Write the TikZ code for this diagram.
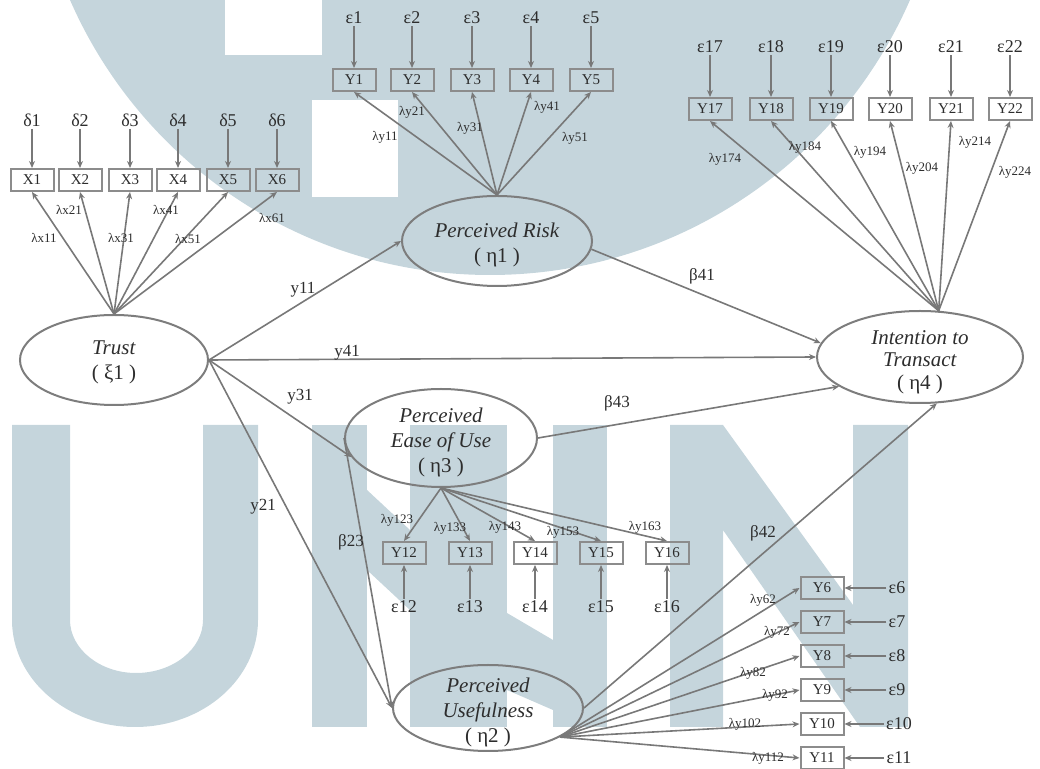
\documentclass[tikz,border=0pt]{standalone}
\usepackage{fontspec}
\setmainfont{Liberation Serif}
\usetikzlibrary{arrows.meta, shapes.geometric}

\begin{document}
\begin{tikzpicture}[x=0.5pt, y=-0.5pt,
    ind/.style={draw=boxgray, line width=1pt, minimum width=21.5pt, minimum height=11pt, inner sep=0pt, text=txtgray, font=\fontsize{7.5}{8}\selectfont},
    err/.style={inner sep=1pt, text=txtgray, font=\fontsize{9}{10}\selectfont},
    lam/.style={inner sep=0pt, text=txtgray, font=\fontsize{6.5}{7}\selectfont},
    coef/.style={inner sep=0pt, text=txtgray, font=\fontsize{8.5}{9}\selectfont},
    lat/.style={draw=elgray, line width=1pt, ellipse, inner sep=0pt},
    lattext/.style={align=center, text=txtgray, font=\fontsize{10.5}{12.5}\selectfont},
    arr/.style={draw=pathgray, line width=0.8pt, -{Stealth[length=3.5pt, width=3pt]}}]

%my colors
\definecolor{wmblue}{RGB}{197,213,220}
\definecolor{boxgray}{RGB}{140,140,140}
\definecolor{elgray}{RGB}{125,125,125}
\definecolor{pathgray}{RGB}{120,120,120}
\definecolor{txtgray}{RGB}{45,45,45}

    \useasboundingbox (0,0) rectangle (1040,769);

    % watermark behind the model
    \begin{scope}
    \clip (0,0) rectangle (1040,769);
    \fill[wmblue] (490,-183) circle (229pt);
    \fill[white] (225,0) rectangle (322,55);
    \fill[white] (312,100) rectangle (398,197);
    % U
    \fill[wmblue] (12,425) -- (12,620) .. controls (12,679) and (67,727) .. (135,727) .. controls (203,727) and (258,679) .. (258,620) -- (258,425) -- (203,425) -- (203,620) .. controls (203,649) and (173,673) .. (136,673) .. controls (100,673) and (70,649) .. (70,620) -- (70,425) -- cycle;
    % M
    \fill[wmblue] (312,425) rectangle (367,727);
    \fill[wmblue] (410,425) rectangle (507,727);
    \fill[wmblue] (553,425) rectangle (607,727);
    \fill[wmblue] (367,490) -- (410,530) -- (410,610) -- (367,570) -- cycle;
    \fill[wmblue] (507,613) -- (553,640) -- (553,710) -- (507,690) -- cycle;
    % N
    \fill[wmblue] (670,425) -- (723,425) -- (853,605) -- (853,425) -- (908,425) -- (908,727) -- (860,727) -- (723,530) -- (723,727) -- (670,727) -- cycle;
    \end{scope}

    % Latent variables
    \node[lat, minimum width=94pt, minimum height=45pt] (Trust) at (114,360) {};
    \node[lattext] (TrustText) at (114,362) {\textit{Trust}\\( ξ1 )};
    \node[lat, minimum width=95pt, minimum height=45pt] (PR) at (497,241) {};
    \node[lattext] (PRText) at (497,245) {\textit{Perceived Risk}\\( η1 )};
    \node[lat, minimum width=103pt, minimum height=46pt] (IT) at (920,357) {};
    \node[lattext, font=\fontsize{10.5}{11.3}\selectfont] (ITText) at (920,362) {\textit{Intention to}\\\textit{Transact}\\( η4 )};
    \node[lat, minimum width=96pt, minimum height=49pt] (PEOU) at (441,438) {};
    \node[lattext] (PEOUText) at (441,442) {\textit{Perceived}\\\textit{Ease of Use}\\( η3 )};
    \node[lat, minimum width=95pt, minimum height=43pt] (PU) at (488,708) {};
    \node[lattext] (PUText) at (488,712) {\textit{Perceived}\\\textit{Usefulness}\\( η2 )};

    % Trust indicators
    \node[ind] (X1) at (32,180) {X1};
    \node[ind] (X2) at (80,180) {X2};
    \node[ind] (X3) at (130,180) {X3};
    \node[ind] (X4) at (178,180) {X4};
    \node[ind] (X5) at (228,180) {X5};
    \node[ind] (X6) at (277,180) {X6};
    \node[err] (d1) at (32,120) {δ1};
    \node[err] (d2) at (80,120) {δ2};
    \node[err] (d3) at (130,120) {δ3};
    \node[err] (d4) at (178,120) {δ4};
    \node[err] (d5) at (228,120) {δ5};
    \node[err] (d6) at (277,120) {δ6};

    % Perceived Risk indicators
    \node[ind] (Y1) at (354,80) {Y1};
    \node[ind] (Y2) at (412,80) {Y2};
    \node[ind] (Y3) at (472,80) {Y3};
    \node[ind] (Y4) at (531,80) {Y4};
    \node[ind] (Y5) at (591,80) {Y5};
    \node[err] (e1) at (354,18) {ε1};
    \node[err] (e2) at (412,18) {ε2};
    \node[err] (e3) at (472,18) {ε3};
    \node[err] (e4) at (531,18) {ε4};
    \node[err] (e5) at (591,18) {ε5};

    % Intention indicators
    \node[ind] (Y17) at (710,109) {Y17};
    \node[ind] (Y18) at (771,109) {Y18};
    \node[ind] (Y19) at (831,109) {Y19};
    \node[ind] (Y20) at (890,109) {Y20};
    \node[ind] (Y21) at (951,109) {Y21};
    \node[ind] (Y22) at (1010,109) {Y22};
    \node[err] (e17) at (710,47) {ε17};
    \node[err] (e18) at (771,47) {ε18};
    \node[err] (e19) at (831,47) {ε19};
    \node[err] (e20) at (890,47) {ε20};
    \node[err] (e21) at (951,47) {ε21};
    \node[err] (e22) at (1010,47) {ε22};

    % Ease of use indicators
    \node[ind] (Y12) at (404,553) {Y12};
    \node[ind] (Y13) at (470,553) {Y13};
    \node[ind] (Y14) at (535,553) {Y14};
    \node[ind] (Y15) at (601,553) {Y15};
    \node[ind] (Y16) at (667,553) {Y16};
    \node[err] (e12) at (404,607) {ε12};
    \node[err] (e13) at (470,607) {ε13};
    \node[err] (e14) at (535,607) {ε14};
    \node[err] (e15) at (601,607) {ε15};
    \node[err] (e16) at (667,607) {ε16};

    % Usefulness indicators
    \node[ind] (Y6) at (822,588) {Y6};
    \node[ind] (Y7) at (822,622) {Y7};
    \node[ind] (Y8) at (822,656) {Y8};
    \node[ind] (Y9) at (822,690) {Y9};
    \node[ind] (Y10) at (822,724) {Y10};
    \node[ind] (Y11) at (822,758) {Y11};
    \node[err] (e6) at (897,588) {ε6};
    \node[err] (e7) at (897,622) {ε7};
    \node[err] (e8) at (897,656) {ε8};
    \node[err] (e9) at (897,690) {ε9};
    \node[err] (e10) at (899,724) {ε10};
    \node[err] (e11) at (899,758) {ε11};

    % Error terms
    \draw[arr] (d1) -- (X1);
    \draw[arr] (d2) -- (X2);
    \draw[arr] (d3) -- (X3);
    \draw[arr] (d4) -- (X4);
    \draw[arr] (d5) -- (X5);
    \draw[arr] (d6) -- (X6);
    \draw[arr] (e1) -- (Y1);
    \draw[arr] (e2) -- (Y2);
    \draw[arr] (e3) -- (Y3);
    \draw[arr] (e4) -- (Y4);
    \draw[arr] (e5) -- (Y5);
    \draw[arr] (e17) -- (Y17);
    \draw[arr] (e18) -- (Y18);
    \draw[arr] (e19) -- (Y19);
    \draw[arr] (e20) -- (Y20);
    \draw[arr] (e21) -- (Y21);
    \draw[arr] (e22) -- (Y22);
    \draw[arr] (e12) -- (Y12);
    \draw[arr] (e13) -- (Y13);
    \draw[arr] (e14) -- (Y14);
    \draw[arr] (e15) -- (Y15);
    \draw[arr] (e16) -- (Y16);
    \draw[arr] (e6) -- (Y6);
    \draw[arr] (e7) -- (Y7);
    \draw[arr] (e8) -- (Y8);
    \draw[arr] (e9) -- (Y9);
    \draw[arr] (e10) -- (Y10);
    \draw[arr] (e11) -- (Y11);

    % Loadings
    \coordinate (ITtop) at (IT.68);
    \coordinate (PUout) at (PU.-22);
    \draw[arr] (Trust.north) -- (X1.south);
    \draw[arr] (Trust.north) -- (X2.south);
    \draw[arr] (Trust.north) -- (X3.south);
    \draw[arr] (Trust.north) -- (X4.south);
    \draw[arr] (Trust.north) -- (X5.south);
    \draw[arr] (Trust.north) -- (X6.south);
    \draw[arr] (PR.north) -- (Y1.south);
    \draw[arr] (PR.north) -- (Y2.south);
    \draw[arr] (PR.north) -- (Y3.south);
    \draw[arr] (PR.north) -- (Y4.south);
    \draw[arr] (PR.north) -- (Y5.south);
    \draw[arr] (ITtop) -- (Y17.south);
    \draw[arr] (ITtop) -- (Y18.south);
    \draw[arr] (ITtop) -- (Y19.south);
    \draw[arr] (ITtop) -- (Y20.south);
    \draw[arr] (ITtop) -- (Y21.south);
    \draw[arr] (ITtop) -- (Y22.south);
    \draw[arr] (PEOU.south) -- (Y12.north);
    \draw[arr] (PEOU.south) -- (Y13.north);
    \draw[arr] (PEOU.south) -- (Y14.north);
    \draw[arr] (PEOU.south) -- (Y15.north);
    \draw[arr] (PEOU.south) -- (Y16.north);
    \draw[arr] (PUout) -- (Y6.west);
    \draw[arr] (PUout) -- (Y7.west);
    \draw[arr] (PUout) -- (Y8.west);
    \draw[arr] (PUout) -- (Y9.west);
    \draw[arr] (PUout) -- (Y10.west);
    \draw[arr] (PUout) -- (Y11.west);

    % Loading labels
    \node[lam] (lx11) at (44,238) {λx11};
    \node[lam] (lx21) at (69,210) {λx21};
    \node[lam] (lx31) at (121,238) {λx31};
    \node[lam] (lx41) at (166,210) {λx41};
    \node[lam] (lx51) at (188,239) {λx51};
    \node[lam] (lx61) at (272,218) {λx61};
    \node[lam] (ly11) at (385,137) {λy11};
    \node[lam] (ly21) at (412,112) {λy21};
    \node[lam] (ly31) at (470,128) {λy31};
    \node[lam] (ly41) at (547,107) {λy41};
    \node[lam] (ly51) at (575,138) {λy51};
    \node[lam] (ly174) at (725,159) {λy174};
    \node[lam] (ly184) at (805,147) {λy184};
    \node[lam] (ly194) at (870,152) {λy194};
    \node[lam] (ly204) at (922,168) {λy204};
    \node[lam] (ly214) at (975,142) {λy214};
    \node[lam] (ly224) at (1015,172) {λy224};
    \node[lam] (ly123) at (397,520) {λy123};
    \node[lam] (ly133) at (450,528) {λy133};
    \node[lam] (ly143) at (505,527) {λy143};
    \node[lam] (ly153) at (563,532) {λy153};
    \node[lam] (ly163) at (645,527) {λy163};
    \node[lam] (ly62) at (763,600) {λy62};
    \node[lam] (ly72) at (777,632) {λy72};
    \node[lam] (ly82) at (753,673) {λy82};
    \node[lam] (ly92) at (775,695) {λy92};
    \node[lam] (ly102) at (745,724) {λy102};
    \node[lam] (ly112) at (768,758) {λy112};

    % Structural paths
    \draw[arr] (Trust.east) -- (PR.west);
    \draw[arr] (Trust.east) -- (IT.west);
    \draw[arr] (Trust.east) -- (PEOU.192);
    \draw[arr] (Trust.east) -- (PU.west);
    \draw[arr] (PR.-5) -- (IT.172);
    \draw[arr] (PEOU.east) -- (IT.200);
    \draw[arr] (PEOU.180) -- (PU.west);
    \draw[arr] (PU.east) -- (IT.290);

    \node[coef] (g11) at (303,290) {y11};
    \node[coef] (g41) at (347,353) {y41};
    \node[coef] (g31) at (300,397) {y31};
    \node[coef] (g21) at (263,507) {y21};
    \node[coef] (b41) at (702,276) {β41};
    \node[coef] (b43) at (617,403) {β43};
    \node[coef] (b23) at (351,542) {β23};
    \node[coef] (b42) at (763,533) {β42};

\end{tikzpicture}
\end{document}
